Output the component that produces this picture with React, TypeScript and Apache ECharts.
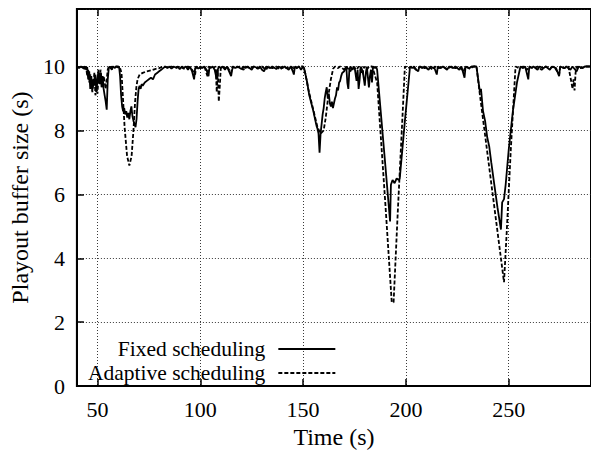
import React, { useEffect, useRef } from "react";
import * as echarts from "echarts";

const seriesNames = ["Fixed scheduling", "Adaptive scheduling"];
const xLabel = "Time (s)";
const yLabel = "Playout buffer size (s)";

const fixedScheduling: [number, number][] = [
  [40, 10], [41, 9.97], [42, 10], [43, 9.95], [44, 10], [44.5, 9.9], [45, 9.98], [45.5, 9.6], [46, 9.85], [46.5, 9.3],
  [47, 9.7], [47.5, 9.25], [48, 9.6], [48.5, 9.4], [49, 9.75], [49.5, 9.2], [50, 9.6], [50.5, 9.9], [51, 9.45], [51.5, 9.8],
  [52, 9.35], [52.5, 9.7], [53, 9.3], [53.5, 9.1], [54, 8.9], [54.5, 8.65], [55, 9.6], [55.5, 9.95], [56, 10], [57, 9.9],
  [57.5, 10], [58.5, 9.95], [59, 10], [60, 9.97], [60.5, 10], [61, 9.7], [61.5, 9.1], [62, 8.75], [62.5, 8.6], [63, 8.7],
  [63.5, 8.5], [64, 8.6], [64.5, 8.4], [65, 8.55], [65.5, 8.35], [66, 8.6], [66.5, 8.75], [67, 8.45], [67.5, 8.3], [68, 8.2],
  [68.5, 8.1], [69, 8.35], [69.5, 8.9], [70, 9.3], [70.5, 9.4], [71, 9.3], [71.5, 9.45], [72, 9.4], [73, 9.5], [74, 9.55],
  [75, 9.6], [76, 9.65], [77, 9.6], [78, 9.75], [79, 9.8], [80, 9.85], [81, 9.9], [82, 9.95], [83, 10], [84, 9.95],
  [85, 10], [86, 9.93], [87, 10], [88, 9.97], [89, 10], [90, 9.92], [91, 10], [92, 9.96], [93, 10], [94, 9.9],
  [95, 10], [96, 9.85], [97, 9.6], [97.5, 9.95], [98, 10], [99, 9.93], [100, 10], [101, 9.95], [102, 10], [103, 9.9],
  [104, 9.7], [104.5, 10], [105, 9.95], [106, 10], [107, 9.9], [108, 9.6], [108.5, 9.9], [109, 10], [110, 9.95], [111, 10],
  [112, 9.9], [113, 10], [114, 9.85], [115, 9.7], [115.5, 9.9], [116, 10], [117, 9.95], [118, 10], [120, 9.92], [121, 10],
  [122, 9.95], [123, 10], [125, 9.9], [126, 10], [128, 9.95], [129, 10], [130, 9.9], [131, 9.85], [132, 10], [134, 9.95],
  [135, 10], [137, 9.92], [138, 10], [140, 9.95], [141, 10], [143, 9.9], [144, 10], [145, 9.85], [145.5, 9.75], [146, 10],
  [147, 9.95], [148, 10], [149, 9.9], [150, 10], [150.5, 9.95], [151, 9.8], [152, 9.5], [153, 9.1], [154, 8.85], [155, 8.6],
  [156, 8.3], [156.5, 8.15], [157, 8.05], [157.5, 7.9], [158, 7.3], [158.5, 7.9], [159, 8.2], [159.5, 8.5], [160, 8.7], [160.5, 9.0],
  [161, 9.2], [161.5, 9.35], [162, 9.0], [162.5, 9.15], [163, 8.85], [163.5, 8.75], [164, 8.9], [164.5, 8.7], [165, 8.85], [165.5, 9.0],
  [166, 9.1], [166.5, 9.35], [167, 9.25], [167.5, 9.5], [168, 9.55], [168.5, 9.7], [169, 9.8], [170, 9.85], [170.5, 9.95], [171, 10],
  [171.5, 9.5], [172, 9.3], [172.5, 9.9], [173, 10], [174, 9.9], [175, 10], [176, 9.55], [176.5, 9.9], [177, 9.3], [177.5, 9.6],
  [178, 10], [179, 9.85], [180, 9.4], [180.5, 9.8], [181, 10], [182, 9.35], [182.5, 9.7], [183, 9.9], [183.5, 9.5], [184, 10],
  [185, 9.95], [185.5, 10], [186, 9.9], [188, 8.4], [190, 6.9], [192.3, 5.15], [192.7, 6.3], [193.5, 6.45], [194.5, 6.35], [195.5, 6.5],
  [196.5, 6.45], [197, 6.5], [199.5, 8.3], [202, 10], [203, 9.95], [204, 10], [205, 9.9], [206, 9.85], [206.5, 10], [208, 9.95],
  [209, 10], [211, 9.9], [212, 10], [214, 9.93], [215, 9.75], [215.5, 10], [217, 9.95], [218, 10], [220, 9.9], [221, 10],
  [223, 9.95], [224, 10], [226, 9.9], [227, 10], [228.5, 9.65], [229, 10], [231, 9.95], [232, 10], [234.3, 10], [236, 9.2],
  [236.5, 9.3], [237.5, 8.6], [238.5, 8.3], [239.5, 7.8], [240.5, 7.5], [241.5, 7.0], [243, 6.3], [244.5, 5.6], [246.2, 4.9], [246.8, 5.75],
  [247.7, 5.85], [248.5, 6.3], [250, 7.4], [252, 8.6], [254, 9.5], [255.7, 10], [257, 9.95], [258, 10], [259.5, 9.6], [260, 10],
  [261, 9.95], [262, 10], [264, 9.9], [265, 10], [267, 9.95], [268, 10], [270, 9.9], [271, 10], [273, 9.95], [274.5, 9.7],
  [275, 10], [277, 9.95], [278, 10], [280, 9.9], [281, 10], [283, 9.85], [284, 10], [286, 9.95], [287, 10], [290, 10],
];

const adaptiveScheduling: [number, number][] = [
  [40, 10], [41, 9.95], [42, 10], [43, 9.97], [44, 9.9], [44.5, 10], [45, 9.7], [45.5, 9.9], [46, 9.5], [46.5, 9.75],
  [47, 9.55], [47.5, 9.2], [48, 9.5], [48.5, 9.8], [49, 9.1], [49.5, 9.4], [50, 9.15], [50.5, 9.7], [51, 9.5], [51.5, 9.9],
  [52, 9.6], [52.5, 9.4], [53, 9.7], [53.5, 9.5], [54, 9.3], [54.5, 9.6], [55, 9.9], [55.5, 10], [56.5, 9.95], [57, 10],
  [58, 9.97], [59, 10], [60, 10], [61, 9.95], [61.7, 9.8], [62.5, 8.9], [63.2, 8.1], [64.4, 7.2], [65.5, 6.9], [66.6, 7.2],
  [67.5, 8.0], [68.3, 8.9], [68.9, 9.35], [69.5, 9.6], [70.5, 9.75], [72, 9.8], [74, 9.85], [76, 9.88], [78, 9.92], [80, 9.95],
  [82, 10], [84, 9.97], [86, 10], [88, 9.95], [90, 10], [92, 9.93], [94, 10], [96, 9.9], [97.5, 9.75], [98, 10],
  [100, 9.95], [102, 10], [103.5, 9.7], [104, 10], [106, 9.95], [107.5, 10], [108, 9.2], [108.5, 9.9], [109, 8.9], [109.5, 9.4],
  [110, 10], [112, 9.95], [113, 10], [115, 9.8], [115.5, 10], [117, 9.95], [119, 10], [121, 9.9], [122, 10], [124, 9.95],
  [126, 10], [128, 9.93], [130, 10], [132, 9.9], [133, 10], [135, 9.95], [137, 10], [139, 9.9], [140, 10], [142, 9.95],
  [144, 10], [146, 9.92], [148, 10], [150, 10], [151, 9.8], [152.5, 9.3], [154, 8.9], [155.5, 8.5], [157, 8.1], [158.5, 7.9],
  [160, 8.0], [161, 8.4], [162.3, 9.1], [163.5, 9.6], [164.6, 9.93], [165.5, 10], [167, 9.95], [168, 10], [170, 9.9], [171, 10],
  [173, 9.85], [174, 10], [176, 9.9], [177, 10], [179, 9.75], [179.5, 10], [181, 9.9], [182, 10], [183.6, 10], [186, 9.5],
  [188, 7.6], [190, 5.7], [193.1, 2.63], [194, 2.62], [196, 5.4], [198, 8.0], [199.5, 10], [201, 9.95], [203, 10], [205, 9.9],
  [207, 10], [209, 9.95], [211, 10], [213, 9.9], [214, 10], [216, 9.95], [218, 10], [220, 9.92], [222, 10], [224, 9.95],
  [226, 10], [228, 9.85], [229, 10], [231, 9.93], [233, 10], [234.3, 10], [236, 9.1], [238, 8.1], [240, 7.1], [242, 6.1],
  [244, 5.1], [246, 4.1], [247.7, 3.25], [249, 4.8], [251, 7.4], [253.3, 10], [255, 9.95], [257, 10], [259, 9.9], [260, 10],
  [262, 9.95], [264, 10], [266, 9.9], [268, 10], [270, 9.95], [272, 10], [274.5, 9.75], [275, 10], [277, 9.95], [279, 10],
  [280.5, 9.5], [281, 9.3], [281.5, 9.6], [282, 9.25], [282.5, 9.8], [283, 10], [285, 9.95], [287, 10], [290, 10],
];

const xMin = 40;
const xMax = 290;
const yMin = 0;
const yMax = 11.8;
const yStep = 2;

const FONT = "'Liberation Serif', 'Times New Roman', serif";

export default function App() {
  const ref = useRef<HTMLDivElement>(null);
  useEffect(() => {
    if (!ref.current) return;
    const chart = echarts.init(ref.current, undefined, { renderer: "svg" });
    const gridLine = { show: true, lineStyle: { color: "#222", width: 0.9, type: [1, 2] as any } };
    chart.setOption({
      animation: false,
      backgroundColor: "#fff",
      textStyle: { fontFamily: FONT, color: "#000" },
      grid: {
        left: 71,
        top: 9,
        right: -6.25,
        bottom: 66.5,
        show: true,
        borderColor: "#000",
        borderWidth: 2,
        containLabel: false,
      },
      legend: {
        show: true,
        orient: "vertical",
        align: "right",
        left: 88,
        top: 338,
        padding: 0,
        itemGap: 2,
        itemWidth: 57,
        itemHeight: 12,
        itemStyle: { opacity: 0, borderWidth: 0 },
        textStyle: { fontFamily: FONT, fontSize: 21.5, color: "#000", padding: [0, 8, 0, 0] },
        data: seriesNames,
      },
      xAxis: [
        {
          type: "value",
          min: xMin,
          max: xMax,
          name: xLabel,
          nameLocation: "middle",
          nameGap: 37,
          nameTextStyle: { fontFamily: FONT, fontSize: 24, color: "#000" },
          axisLine: { show: true, lineStyle: { color: "#000", width: 2 } },
          axisTick: { show: true, inside: true, length: 7, lineStyle: { color: "#000", width: 1.5 } },
          axisLabel: {
            fontFamily: FONT,
            fontSize: 22,
            color: "#000",
            margin: 12,
            showMinLabel: false,
            showMaxLabel: false,
            formatter: (v: number) => (v % 50 === 0 ? String(v) : ""),
          },
          splitLine: gridLine,
        },
        {
          type: "value",
          position: "top",
          min: xMin,
          max: xMax,
          axisLine: { show: false },
          axisTick: { show: true, inside: true, length: 7, lineStyle: { color: "#000", width: 1.5 } },
          axisLabel: { show: false },
          splitLine: { show: false },
        },
      ],
      yAxis: {
        type: "value",
        min: yMin,
        max: yMax,
        interval: yStep,
        name: yLabel,
        nameLocation: "middle",
        nameGap: 42,
        nameRotate: 90,
        nameTextStyle: { fontFamily: FONT, fontSize: 24, color: "#000" },
        axisLine: { show: true, lineStyle: { color: "#000", width: 2 } },
        axisTick: { show: true, inside: true, length: 7, lineStyle: { color: "#000", width: 1.5 } },
        axisLabel: {
          fontFamily: FONT,
          fontSize: 22,
          color: "#000",
          margin: 12,
          formatter: (v: number) => (v % yStep === 0 ? String(v) : ""),
        },
        splitLine: gridLine,
      },
      series: [
        {
          name: seriesNames[0],
          type: "line",
          xAxisIndex: 0,
          data: fixedScheduling,
          symbol: "none",
          lineStyle: { color: "#000", width: 1.8, type: "solid" },
          itemStyle: { color: "#000" },
        },
        {
          name: seriesNames[1],
          type: "line",
          xAxisIndex: 0,
          data: adaptiveScheduling,
          symbol: "none",
          lineStyle: { color: "#000", width: 1.8, type: [4, 2] },
          itemStyle: { color: "#000" },
        },
      ],
    });
    return () => chart.dispose();
  }, []);
  return (
    <div
      ref={ref}
      style={{ position: "fixed", left: 0, top: 0, width: 591, height: 454, background: "#fff" }}
    />
  );
}
